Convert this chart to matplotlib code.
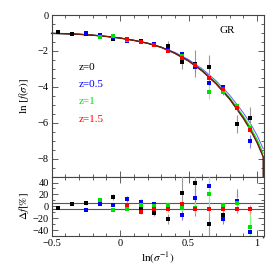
import numpy as np
import matplotlib
matplotlib.use('Agg')
import matplotlib.pyplot as plt
from matplotlib.ticker import MultipleLocator

plt.rcParams['font.family'] = ['Liberation Serif', 'DejaVu Serif']
plt.rcParams['mathtext.fontset'] = 'stix'

nan = np.nan

# model curves
curve_x = [-0.5, -0.4, -0.3, -0.2, -0.1, 0.0, 0.1, 0.2, 0.3, 0.4, 0.5, 0.6, 0.7, 0.8, 0.9, 0.95, 1.0, 1.045, 1.047]
curve_gr = [-1.02, -1.04, -1.07, -1.12, -1.19, -1.28, -1.41, -1.57, -1.80, -2.13, -2.56, -3.12, -3.82, -4.68, -5.75, -6.37, -7.1, -7.9, -12.4]
curve_x_b = [-0.5, -0.4, -0.3, -0.2, -0.1, 0.0, 0.1, 0.2, 0.3, 0.4, 0.5, 0.6, 0.7, 0.8, 0.9, 0.95, 1.0, 1.045]
curve_z05 = [-1.02, -1.04, -1.07, -1.12, -1.19, -1.28, -1.40, -1.56, -1.78, -2.08, -2.48, -3.00, -3.66, -4.46, -5.45, -6.02, -6.70, -7.45]
curve_z1 = [-1.02, -1.04, -1.07, -1.12, -1.19, -1.28, -1.41, -1.57, -1.79, -2.11, -2.53, -3.07, -3.76, -4.60, -5.63, -6.23, -6.92, -7.7]

# binned points
x_pts = [-0.45, -0.35, -0.25, -0.15, -0.05, 0.05, 0.15, 0.25, 0.35, 0.45, 0.55, 0.65, 0.75, 0.85, 0.95]

lnf_z0 = [-0.96, -1.06, -1.07, -1.13, -1.35, -1.35, -1.45, -1.59, -1.72, -2.60, -2.70, -2.90, -4.30, -6.07, -5.74]
err_z0 = [0.02, 0.03, 0.03, 0.03, 0.04, 0.03, 0.05, 0.10, 0.28, 0.42, 0.75, 0.65, 0.15, 0.50, 0.60]
lnf_z05 = [nan, nan, -1.02, -1.12, -1.20, -1.42, -1.50, -1.62, -1.92, -2.17, -2.90, -3.80, -4.02, -5.10, -7.04]
err_z05 = [nan, nan, 0.02, 0.03, 0.03, 0.05, 0.05, 0.06, 0.08, 0.10, 0.25, 0.25, 0.10, 0.15, 0.37]
lnf_z1 = [nan, nan, nan, -1.20, -1.15, -1.38, -1.50, -1.64, -1.98, -2.28, -2.80, -4.30, -4.26, -5.05, -6.30]
err_z1 = [nan, nan, nan, 0.03, 0.03, 0.04, 0.05, 0.06, 0.08, 0.10, 0.20, 0.40, 0.10, 0.10, 0.25]
lnf_z15 = [nan, nan, nan, nan, nan, -1.35, -1.50, -1.65, -2.00, -2.39, -2.78, -3.48, -4.13, -5.18, -6.39]
err_z15 = [nan, nan, nan, nan, nan, 0.03, 0.04, 0.05, 0.06, 0.08, 0.10, 0.12, 0.10, 0.12, 0.15]

# residuals in per cent
d_z0 = [-2.3, 4.4, 5.5, nan, 16, -1, -3, -10.6, -21.7, 22.8, 39, -30, -15, 9, nan]
derr_z0 = [1.5, 2, 3, nan, 5, 3, 4, 5, 8, 30, 40, 20, 10, 14, nan]
d_z05 = [nan, nan, -5.6, 4.4, 2.2, 11.6, 8, 3.3, 0, -15, 14, 34, -21.7, 9, -44]
derr_z05 = [nan, nan, 2, 2, 2, 5, 5, 4, 5, 8, 30, 35, 8, 20, 45]
d_z1 = [nan, nan, nan, 10, -5.6, -4, 2, 0.5, 1.7, -2.3, -2, 20, 3, 6, -35]
derr_z1 = [nan, nan, nan, 3, 2, 2, 3, 3, 5, 5, 10, 30, 5, 10, 30]
d_z15 = [nan, nan, nan, nan, nan, 2.7, -10, -5, -5, 3.3, -5, -5, -4, -4, -5]
derr_z15 = [nan, nan, nan, nan, nan, 2, 3, 3, 4, 6, 8, 8, 6, 6, 8]

labels = ['z=0', 'z=0.5', 'z=1', 'z=1.5']
cols = ['black', '#0000ff', '#00e000', '#ff0000']
ecols = ['#999999', '#8080ff', '#80ff80', '#ff9090']

fig = plt.figure(figsize=(2.79, 2.79), dpi=100)
ax1 = fig.add_axes([0.185, 0.367, 0.761, 0.579])
ax2 = fig.add_axes([0.185, 0.154, 0.761, 0.213])

# model lines
ax1.plot(curve_x_b, curve_z1, color='#00e000', lw=0.7, zorder=2)
ax1.plot(curve_x_b, curve_z05, color='#6060ff', lw=0.7, zorder=2)
ax1.plot(curve_x, curve_gr, color='black', lw=1.0, zorder=2, clip_on=False)
ax1.plot(curve_x, curve_gr, color='#ff3000', lw=0.7, alpha=0.6, zorder=2, clip_on=False)

tops = [(lnf_z0, err_z0), (lnf_z05, err_z05), (lnf_z1, err_z1), (lnf_z15, err_z15)]
bots = [(d_z0, derr_z0), (d_z05, derr_z05), (d_z1, derr_z1), (d_z15, derr_z15)]
for i in range(4):
    y, e = tops[i]
    ax1.errorbar(x_pts, y, yerr=e, fmt='s', color=cols[i], ecolor=ecols[i],
                 ms=2.6, mew=0, elinewidth=0.8, capsize=1.5, capthick=0.6, zorder=3)
    y, e = bots[i]
    ax2.errorbar(x_pts, y, yerr=e, fmt='s', color=cols[i], ecolor=ecols[i],
                 ms=2.6, mew=0, elinewidth=0.8, capsize=1.5, capthick=0.6, zorder=3)

legend_y = [-2.9, -3.85, -4.83, -5.8]
for i in range(4):
    ax1.text(-0.3, legend_y[i], labels[i], color=cols[i], fontsize=8, va='center')
ax1.text(0.78, -0.88, 'GR', fontsize=8, ha='center', va='center')

ax2.axhline(5, color='#555555', lw=0.8, zorder=1)
ax2.axhline(-5, color='#555555', lw=0.8, zorder=1)

ax1.set_xlim(-0.5, 1.05)
ax1.set_ylim(-9, 0)
ax2.set_xlim(-0.5, 1.05)
ax2.set_ylim(-50, 50)

ax1.xaxis.set_major_locator(MultipleLocator(0.5))
ax1.xaxis.set_minor_locator(MultipleLocator(0.1))
ax1.yaxis.set_major_locator(MultipleLocator(2))
ax1.yaxis.set_minor_locator(MultipleLocator(0.5))
ax2.xaxis.set_major_locator(MultipleLocator(0.5))
ax2.xaxis.set_minor_locator(MultipleLocator(0.1))
ax2.yaxis.set_major_locator(MultipleLocator(20))
ax2.yaxis.set_minor_locator(MultipleLocator(10))
ax2.set_xticks([-0.5, 0, 0.5, 1])
ax2.set_xticklabels(['\u22120.5', '0', '0.5', '1'])

for ax in (ax1, ax2):
    ax.tick_params(which='both', direction='in', top=True, right=True,
                   labelsize=7.5, width=0.6, color='#444444', pad=2)
    ax.tick_params(which='major', length=4)
    ax.tick_params(which='minor', length=2)
    for s in ax.spines.values():
        s.set_color('#444444')
        s.set_linewidth(0.8)
ax1.tick_params(labelbottom=False)

ax1.set_ylabel(r'ln $[f(\sigma)]$', fontsize=8, labelpad=5)
ax2.set_ylabel(r'$\Delta f[\%]$', fontsize=8, labelpad=1)
ax2.set_xlabel(r'ln$(\sigma^{-1})$', fontsize=8, labelpad=2)

fig.savefig('out.png', dpi=100)
